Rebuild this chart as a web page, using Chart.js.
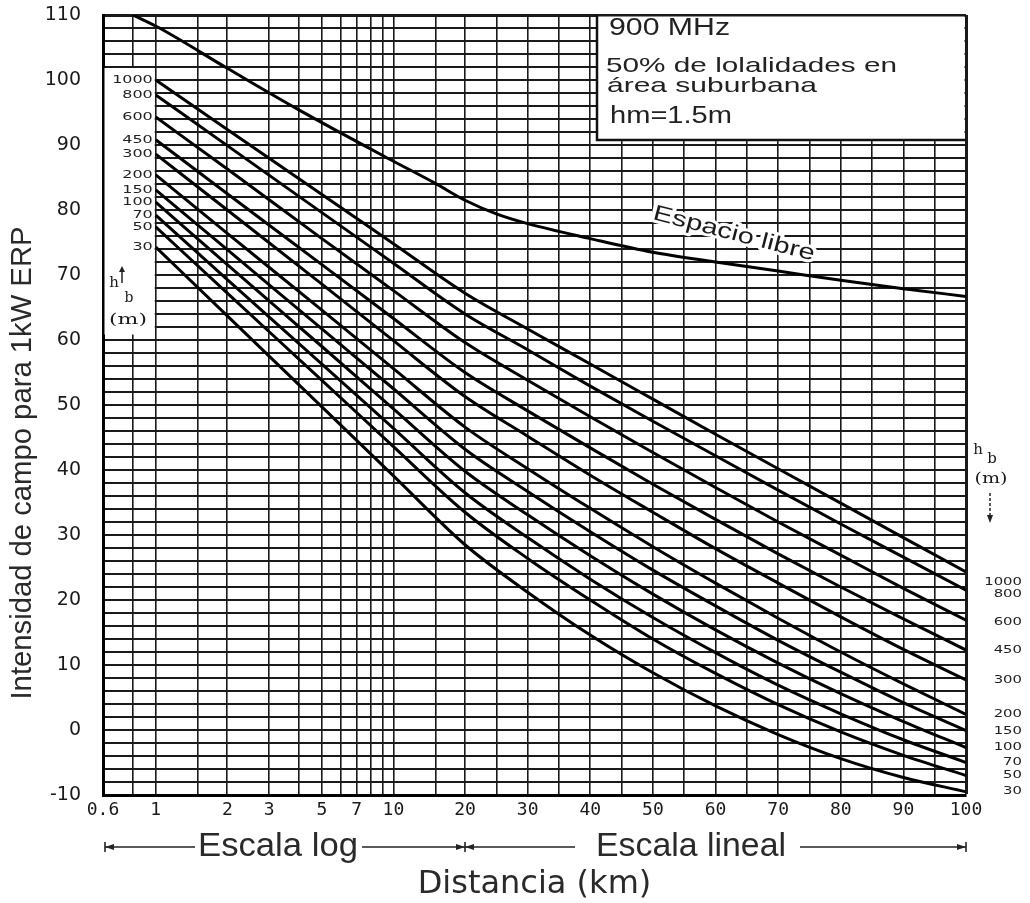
<!DOCTYPE html>
<html><head><meta charset="utf-8">
<script src="https://cdn.jsdelivr.net/npm/chart.js@4.4.1/dist/chart.umd.min.js"></script>
<style>html,body{margin:0;padding:0;background:#fff}canvas{display:block}</style>
</head><body>
<canvas id="c" width="1030" height="903"></canvas>
<script>
// ---- data ----
const distKm = [1, 2, 5, 10, 20, 30, 40, 50, 60, 70, 80, 90, 100];
const heightLabels = ['1000', '800', '600', '450', '300', '200', '150', '100', '70', '50', '30'];
const h1000 = [100.0, 92.4, 82.4, 74.8, 67.2, 61.7, 56.3, 50.9, 45.5, 40.2, 34.9, 29.6, 24.3];
const h800  = [97.7, 89.9, 79.6, 71.8, 64.0, 58.5, 52.9, 47.5, 42.2, 36.9, 31.7, 26.6, 21.5];
const h600  = [94.3, 86.3, 75.6, 67.6, 59.6, 53.8, 48.2, 42.7, 37.3, 32.0, 26.9, 21.8, 16.9];
const h450  = [90.8, 82.5, 71.6, 63.3, 55.0, 49.1, 43.4, 37.8, 32.4, 27.1, 22.0, 17.1, 12.3];
const h300  = [88.6, 80.0, 68.6, 59.9, 51.3, 45.2, 39.2, 33.5, 27.9, 22.6, 17.4, 12.4, 7.7];
const h200  = [85.4, 76.4, 64.6, 55.6, 46.6, 40.2, 34.1, 28.2, 22.6, 17.2, 12.0, 7.1, 2.4];
const h150  = [83.1, 73.9, 61.7, 52.5, 43.2, 36.7, 30.5, 24.6, 19.1, 13.8, 8.9, 4.2, -0.1];
const h100  = [81.2, 71.6, 59.0, 49.4, 39.8, 33.1, 26.8, 20.9, 15.4, 10.3, 5.6, 1.3, -2.7];
const h70   = [79.2, 69.3, 56.3, 46.4, 36.5, 29.6, 23.2, 17.3, 11.9, 6.9, 2.5, -1.5, -5.0];
const h50   = [77.4, 67.2, 53.8, 43.6, 33.5, 26.4, 20.0, 14.0, 8.7, 3.9, -0.3, -3.9, -7.0];
const h30   = [74.3, 63.7, 49.7, 39.1, 28.5, 21.2, 14.6, 8.8, 3.7, -0.7, -4.4, -7.3, -9.5];
const freeDistKm = [0.8, 1, 2, 4, 10, 15, 20, 25, 30, 40, 50, 60, 70, 80, 90, 100];
const freeSpace  = [110.0, 108.3, 101.8, 95.4, 87.5, 84.1, 81.5, 79.4, 77.9, 75.6, 73.5, 72.0, 70.6, 69.2, 67.9, 66.7];
const xGridKm = [0.6, 0.8, 1, 1.5, 2, 3, 4, 5, 6, 7, 8, 9, 10, 15, 20, 25, 30, 35, 40, 45, 50, 55, 60, 65, 70, 75, 80, 85, 90, 95, 100];
const xTickLabels = ['0.6', '1', '2', '3', '5', '7', '10', '20', '30', '40', '50', '60', '70', '80', '90', '100'];
const yMin = -10, yMax = 110, yGridStep = 2, yLabelStep = 10;

const hbSeries = [h1000, h800, h600, h450, h300, h200, h150, h100, h70, h50, h30];

// mixed axis: log scale up to 20 km, linear from 20 to 100 km
const K = 37.96;
function u(d) { return d >= 20 ? d : 20 - K * Math.log10(20 / d); }

const datasets = hbSeries.map((vals, i) => ({
  label: 'hb = ' + heightLabels[i] + ' m',
  data: distKm.map((d, j) => ({ x: u(d), y: vals[j] })),
  borderColor: '#000', borderWidth: 3, pointRadius: 0, showLine: true,
  cubicInterpolationMode: 'monotone', fill: false
}));
datasets.push({
  label: 'Espacio libre',
  data: freeDistKm.map((d, j) => ({ x: u(d), y: freeSpace[j] })),
  borderColor: '#000', borderWidth: 3, pointRadius: 0, showLine: true,
  cubicInterpolationMode: 'monotone', fill: false
});

function txt(ctx, s, x, y, size, family, o) {
  o = o || {};
  ctx.save();
  ctx.font = (o.weight || 'normal') + ' ' + size + 'px "' + family + '"';
  ctx.fillStyle = o.color || '#1a1a1a';
  ctx.textBaseline = o.base || 'middle';
  ctx.textAlign = o.align || 'left';
  const w = ctx.measureText(s).width;
  let sx = o.sx || 1;
  if (o.width) sx = o.width / w;
  ctx.translate(x, y);
  if (o.rot) ctx.rotate(o.rot);
  ctx.scale(sx, 1);
  if (o.halo) { ctx.strokeStyle = '#fff'; ctx.lineWidth = o.halo; ctx.lineJoin = 'round'; ctx.strokeText(s, 0, 0); }
  ctx.fillText(s, 0, 0);
  ctx.restore();
}
function line(ctx, x1, y1, x2, y2) { ctx.beginPath(); ctx.moveTo(x1, y1); ctx.lineTo(x2, y2); ctx.stroke(); }
function head(ctx, x, y, dir, len, half) {
  ctx.beginPath(); ctx.moveTo(x, y);
  ctx.lineTo(x - dir[0] * len - dir[1] * half, y - dir[1] * len - dir[0] * half);
  ctx.lineTo(x - dir[0] * len + dir[1] * half, y - dir[1] * len + dir[0] * half);
  ctx.closePath(); ctx.fill();
}

const decor = {
  id: 'decor',
  beforeDatasetsDraw(chart) {
    const ctx = chart.ctx, a = chart.chartArea, xs = chart.scales.x, ys = chart.scales.y;
    ctx.save();
    ctx.fillStyle = '#fff';
    // left box with hb labels
    const lx2 = xs.getPixelForValue(u(1)) - 1;
    ctx.fillRect(a.left + 1.5, ys.getPixelForValue(102) + 1, lx2 - a.left - 1.5, ys.getPixelForValue(61) - ys.getPixelForValue(102));
    // legend box
    const bx = 597, by2 = 140;
    ctx.fillRect(bx, a.top + 1.5, a.right - 1.5 - bx, by2 - a.top - 1.5);
    ctx.strokeStyle = '#111'; ctx.lineWidth = 2.5;
    ctx.beginPath(); ctx.moveTo(bx, a.top); ctx.lineTo(bx, by2); ctx.lineTo(a.right, by2); ctx.stroke();
    ctx.restore();
  },
  afterDraw(chart) {
    const ctx = chart.ctx, a = chart.chartArea, xs = chart.scales.x, ys = chart.scales.y;
    // y axis title
    txt(ctx, 'Intensidad de campo para 1kW ERP', 23, 463, 29, 'Liberation Sans', { align: 'center', rot: -Math.PI / 2, width: 473, color: '#2a2a2a' });
    // legend box text
    txt(ctx, '900 MHz', 609, 35, 23, 'Liberation Sans', { base: 'alphabetic', width: 121, color: '#222' });
    txt(ctx, '50% de lolalidades en', 606, 72, 21, 'Liberation Sans', { base: 'alphabetic', width: 291, color: '#222' });
    txt(ctx, 'área suburbana', 607, 92, 21, 'Liberation Sans', { base: 'alphabetic', width: 210, color: '#222' });
    txt(ctx, 'hm=1.5m', 610, 123, 23, 'Liberation Sans', { base: 'alphabetic', width: 122, color: '#222' });
    // Espacio libre label
    txt(ctx, 'Espacio libre', 734, 234, 22, 'Liberation Sans', { align: 'center', rot: 0.253, width: 166, halo: 6, color: '#1a1a1a' });
    // hb labels, left box (at curve start values)
    const lx = xs.getPixelForValue(u(1)) - 3;
    hbSeries.forEach((vals, i) => {
      txt(ctx, heightLabels[i], lx, ys.getPixelForValue(vals[0]), 11, 'DejaVu Sans', { align: 'right', sx: 1.45, color: '#222' });
    });
    // hb labels, right side (at curve end values)
    const rOff = [10, 4, 2, 0, 0, 0, 0, 0, 0, 0, -1];
    hbSeries.forEach((vals, i) => {
      txt(ctx, heightLabels[i], 1022, ys.getPixelForValue(vals[vals.length - 1]) + rOff[i], 11, 'DejaVu Sans', { align: 'right', sx: 1.35, color: '#222' });
    });
    // h_b (m) with arrows
    ctx.save();
    ctx.strokeStyle = '#222'; ctx.fillStyle = '#222'; ctx.lineWidth = 1.5;
    txt(ctx, 'h', 114, 283, 15, 'DejaVu Serif', { align: 'center' });
    line(ctx, 122, 283, 122, 270); head(ctx, 122, 266, [0, -1], 6, 3);
    txt(ctx, 'b', 129, 298, 14, 'DejaVu Serif', { align: 'center' });
    txt(ctx, '(m)', 128, 320, 15, 'DejaVu Serif', { align: 'center', width: 38 });
    txt(ctx, 'h', 978, 450, 15, 'DejaVu Serif', { align: 'center' });
    txt(ctx, 'b', 992, 459, 15, 'DejaVu Serif', { align: 'center' });
    txt(ctx, '(m)', 991, 479, 15, 'DejaVu Serif', { align: 'center', width: 33 });
    ctx.setLineDash([3, 2]);
    line(ctx, 990, 493, 990, 515);
    ctx.setLineDash([]);
    head(ctx, 990, 523, [0, 1], 8, 3);
    ctx.restore();
    // Escala log / Escala lineal row
    const yE = 847, xl = a.left + 2, xm = xs.getPixelForValue(20), xr = a.right;
    ctx.save();
    ctx.strokeStyle = '#222'; ctx.fillStyle = '#222'; ctx.lineWidth = 1.6;
    line(ctx, xl, yE, 195, yE); line(ctx, 362, yE, 575, yE); line(ctx, 800, yE, xr, yE);
    line(ctx, xl, yE - 5, xl, yE + 5); line(ctx, xm, yE - 5, xm, yE + 5); line(ctx, xr, yE - 5, xr, yE + 5);
    head(ctx, xl, yE, [-1, 0], 9, 3); head(ctx, xm, yE, [1, 0], 9, 3); head(ctx, xm, yE, [-1, 0], 9, 3); head(ctx, xr, yE, [1, 0], 9, 3);
    ctx.restore();
    txt(ctx, 'Escala log', 278, yE, 33, 'Liberation Sans', { align: 'center', width: 160, color: '#2a2a2a' });
    txt(ctx, 'Escala lineal', 691, yE, 33, 'Liberation Sans', { align: 'center', width: 190, color: '#2a2a2a' });
  }
};

Chart.defaults.font.family = 'DejaVu Sans';
new Chart(document.getElementById('c'), {
  type: 'scatter',
  data: { datasets },
  plugins: [decor],
  options: {
    responsive: false, animation: false, devicePixelRatio: 1,
    layout: { padding: { top: 15, right: 64, left: 0, bottom: 0 } },
    plugins: { legend: { display: false }, tooltip: { enabled: false } },
    scales: {
      x: {
        type: 'linear', min: u(0.6), max: 100,
        afterBuildTicks(scale) { scale.ticks = xGridKm.map(k => ({ value: u(k) })); },
        afterFit(scale) { scale.height = 108; scale.paddingLeft = 0; scale.paddingRight = 0; },
        ticks: {
          autoSkip: false, maxRotation: 0, padding: 5, color: '#1a1a1a',
          font: { family: 'DejaVu Sans Mono', size: 18 },
          callback(v) {
            const k = xGridKm.find(km => Math.abs(u(km) - v) < 1e-6);
            return (k !== undefined && xTickLabels.includes(String(k))) ? String(k) : '';
          }
        },
        grid: { color: '#1a1a1a', lineWidth: c => (c.tick && c.tick.value === 100) ? 3 : 1.6, drawTicks: false },
        border: { display: true, color: '#000', width: 3 },
        title: { display: true, text: 'Distancia (km)', color: '#2a2a2a', font: { family: 'DejaVu Sans', size: 32, lineHeight: 1 }, padding: { top: 0, bottom: 2 } }
      },
      y: {
        type: 'linear', min: yMin, max: yMax,
        afterBuildTicks(scale) {
          const t = [];
          for (let v = yMin; v <= yMax; v += yGridStep) t.push({ value: v });
          scale.ticks = t;
        },
        afterFit(scale) { scale.width = 103; scale.paddingTop = 0; scale.paddingBottom = 0; },
        ticks: {
          autoSkip: false, padding: 22, color: '#1a1a1a',
          font: { family: 'DejaVu Sans', size: 19 },
          callback(v) { return v % yLabelStep === 0 ? String(v) : ''; }
        },
        grid: { color: '#1a1a1a', lineWidth: c => (c.tick && c.tick.value === yMax) ? 3 : 2, drawTicks: false },
        border: { display: true, color: '#000', width: 3 },
        title: { display: false }
      }
    }
  }
});
</script>
</body></html>
